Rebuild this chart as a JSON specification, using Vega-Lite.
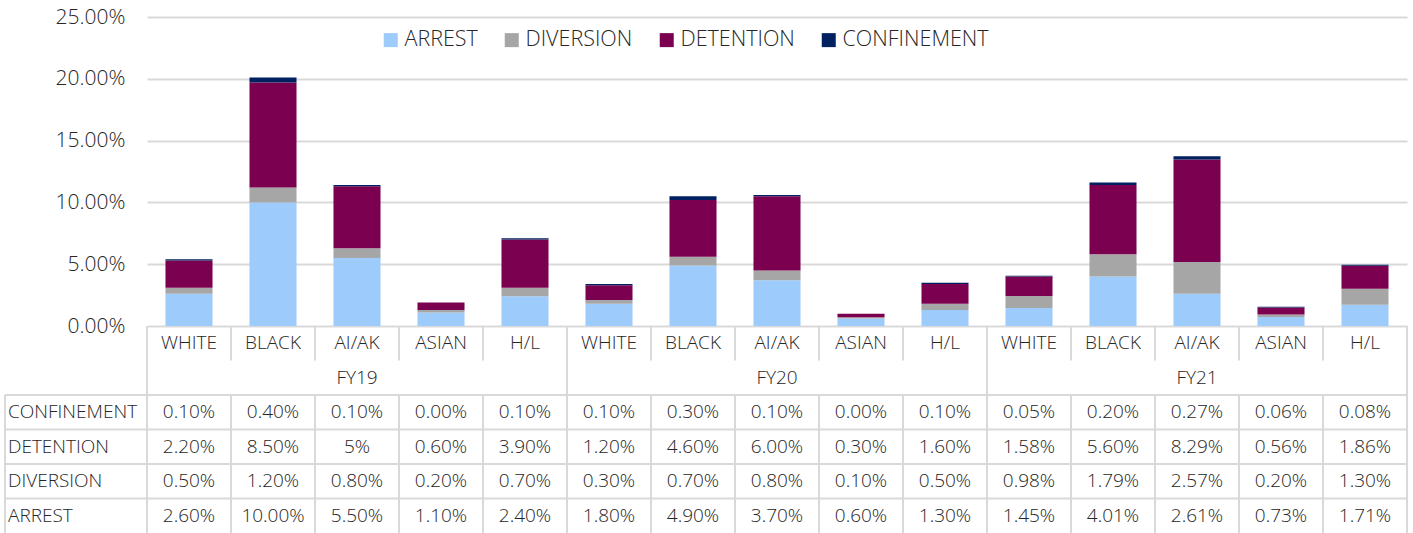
{
  "$schema": "https://vega.github.io/schema/vega-lite/v6.json",
  "width": 1260,
  "height": 516,
  "autosize": {"type": "none"},
  "padding": {"left": 147, "top": 17, "right": 6, "bottom": 0},
  "background": "white",
  "config": {"view": {"stroke": null}, "font": "Open Sans"},
  "datasets": {
    "rates": [
      {"fy": "FY19", "race": "WHITE", "stage": "ARREST", "value": 0.026, "label": "2.60%"},
      {"fy": "FY19", "race": "WHITE", "stage": "DIVERSION", "value": 0.005, "label": "0.50%"},
      {"fy": "FY19", "race": "WHITE", "stage": "DETENTION", "value": 0.022, "label": "2.20%"},
      {"fy": "FY19", "race": "WHITE", "stage": "CONFINEMENT", "value": 0.001, "label": "0.10%"},
      {"fy": "FY19", "race": "BLACK", "stage": "ARREST", "value": 0.100, "label": "10.00%"},
      {"fy": "FY19", "race": "BLACK", "stage": "DIVERSION", "value": 0.012, "label": "1.20%"},
      {"fy": "FY19", "race": "BLACK", "stage": "DETENTION", "value": 0.085, "label": "8.50%"},
      {"fy": "FY19", "race": "BLACK", "stage": "CONFINEMENT", "value": 0.004, "label": "0.40%"},
      {"fy": "FY19", "race": "AI/AK", "stage": "ARREST", "value": 0.055, "label": "5.50%"},
      {"fy": "FY19", "race": "AI/AK", "stage": "DIVERSION", "value": 0.008, "label": "0.80%"},
      {"fy": "FY19", "race": "AI/AK", "stage": "DETENTION", "value": 0.05, "label": "5%"},
      {"fy": "FY19", "race": "AI/AK", "stage": "CONFINEMENT", "value": 0.001, "label": "0.10%"},
      {"fy": "FY19", "race": "ASIAN", "stage": "ARREST", "value": 0.011, "label": "1.10%"},
      {"fy": "FY19", "race": "ASIAN", "stage": "DIVERSION", "value": 0.002, "label": "0.20%"},
      {"fy": "FY19", "race": "ASIAN", "stage": "DETENTION", "value": 0.006, "label": "0.60%"},
      {"fy": "FY19", "race": "ASIAN", "stage": "CONFINEMENT", "value": 0.0, "label": "0.00%"},
      {"fy": "FY19", "race": "H/L", "stage": "ARREST", "value": 0.024, "label": "2.40%"},
      {"fy": "FY19", "race": "H/L", "stage": "DIVERSION", "value": 0.007, "label": "0.70%"},
      {"fy": "FY19", "race": "H/L", "stage": "DETENTION", "value": 0.039, "label": "3.90%"},
      {"fy": "FY19", "race": "H/L", "stage": "CONFINEMENT", "value": 0.001, "label": "0.10%"},
      {"fy": "FY20", "race": "WHITE", "stage": "ARREST", "value": 0.018, "label": "1.80%"},
      {"fy": "FY20", "race": "WHITE", "stage": "DIVERSION", "value": 0.003, "label": "0.30%"},
      {"fy": "FY20", "race": "WHITE", "stage": "DETENTION", "value": 0.012, "label": "1.20%"},
      {"fy": "FY20", "race": "WHITE", "stage": "CONFINEMENT", "value": 0.001, "label": "0.10%"},
      {"fy": "FY20", "race": "BLACK", "stage": "ARREST", "value": 0.049, "label": "4.90%"},
      {"fy": "FY20", "race": "BLACK", "stage": "DIVERSION", "value": 0.007, "label": "0.70%"},
      {"fy": "FY20", "race": "BLACK", "stage": "DETENTION", "value": 0.046, "label": "4.60%"},
      {"fy": "FY20", "race": "BLACK", "stage": "CONFINEMENT", "value": 0.003, "label": "0.30%"},
      {"fy": "FY20", "race": "AI/AK", "stage": "ARREST", "value": 0.037, "label": "3.70%"},
      {"fy": "FY20", "race": "AI/AK", "stage": "DIVERSION", "value": 0.008, "label": "0.80%"},
      {"fy": "FY20", "race": "AI/AK", "stage": "DETENTION", "value": 0.060, "label": "6.00%"},
      {"fy": "FY20", "race": "AI/AK", "stage": "CONFINEMENT", "value": 0.001, "label": "0.10%"},
      {"fy": "FY20", "race": "ASIAN", "stage": "ARREST", "value": 0.006, "label": "0.60%"},
      {"fy": "FY20", "race": "ASIAN", "stage": "DIVERSION", "value": 0.001, "label": "0.10%"},
      {"fy": "FY20", "race": "ASIAN", "stage": "DETENTION", "value": 0.003, "label": "0.30%"},
      {"fy": "FY20", "race": "ASIAN", "stage": "CONFINEMENT", "value": 0.0, "label": "0.00%"},
      {"fy": "FY20", "race": "H/L", "stage": "ARREST", "value": 0.013, "label": "1.30%"},
      {"fy": "FY20", "race": "H/L", "stage": "DIVERSION", "value": 0.005, "label": "0.50%"},
      {"fy": "FY20", "race": "H/L", "stage": "DETENTION", "value": 0.016, "label": "1.60%"},
      {"fy": "FY20", "race": "H/L", "stage": "CONFINEMENT", "value": 0.001, "label": "0.10%"},
      {"fy": "FY21", "race": "WHITE", "stage": "ARREST", "value": 0.0145, "label": "1.45%"},
      {"fy": "FY21", "race": "WHITE", "stage": "DIVERSION", "value": 0.0098, "label": "0.98%"},
      {"fy": "FY21", "race": "WHITE", "stage": "DETENTION", "value": 0.0158, "label": "1.58%"},
      {"fy": "FY21", "race": "WHITE", "stage": "CONFINEMENT", "value": 0.0005, "label": "0.05%"},
      {"fy": "FY21", "race": "BLACK", "stage": "ARREST", "value": 0.0401, "label": "4.01%"},
      {"fy": "FY21", "race": "BLACK", "stage": "DIVERSION", "value": 0.0179, "label": "1.79%"},
      {"fy": "FY21", "race": "BLACK", "stage": "DETENTION", "value": 0.056, "label": "5.60%"},
      {"fy": "FY21", "race": "BLACK", "stage": "CONFINEMENT", "value": 0.002, "label": "0.20%"},
      {"fy": "FY21", "race": "AI/AK", "stage": "ARREST", "value": 0.0261, "label": "2.61%"},
      {"fy": "FY21", "race": "AI/AK", "stage": "DIVERSION", "value": 0.0257, "label": "2.57%"},
      {"fy": "FY21", "race": "AI/AK", "stage": "DETENTION", "value": 0.0829, "label": "8.29%"},
      {"fy": "FY21", "race": "AI/AK", "stage": "CONFINEMENT", "value": 0.0027, "label": "0.27%"},
      {"fy": "FY21", "race": "ASIAN", "stage": "ARREST", "value": 0.0073, "label": "0.73%"},
      {"fy": "FY21", "race": "ASIAN", "stage": "DIVERSION", "value": 0.002, "label": "0.20%"},
      {"fy": "FY21", "race": "ASIAN", "stage": "DETENTION", "value": 0.0056, "label": "0.56%"},
      {"fy": "FY21", "race": "ASIAN", "stage": "CONFINEMENT", "value": 0.0006, "label": "0.06%"},
      {"fy": "FY21", "race": "H/L", "stage": "ARREST", "value": 0.0171, "label": "1.71%"},
      {"fy": "FY21", "race": "H/L", "stage": "DIVERSION", "value": 0.013, "label": "1.30%"},
      {"fy": "FY21", "race": "H/L", "stage": "DETENTION", "value": 0.0186, "label": "1.86%"},
      {"fy": "FY21", "race": "H/L", "stage": "CONFINEMENT", "value": 0.0008, "label": "0.08%"}
    ],
    "grid": [
      {"x": -1, "x2": 15, "y": 2, "y2": 2},
      {"x": -1, "x2": 15, "y": 3, "y2": 3},
      {"x": -1, "x2": 15, "y": 4, "y2": 4},
      {"x": -1, "x2": 15, "y": 5, "y2": 5},
      {"x": -1, "x2": -1, "y": 2, "y2": 6},
      {"x": 0, "x2": 0, "y": 0, "y2": 6},
      {"x": 5, "x2": 5, "y": 0, "y2": 6},
      {"x": 10, "x2": 10, "y": 0, "y2": 6},
      {"x": 15, "x2": 15, "y": 0, "y2": 6},
      {"x": 1, "x2": 1, "y": 0, "y2": 1}, {"x": 1, "x2": 1, "y": 2, "y2": 6},
      {"x": 2, "x2": 2, "y": 0, "y2": 1}, {"x": 2, "x2": 2, "y": 2, "y2": 6},
      {"x": 3, "x2": 3, "y": 0, "y2": 1}, {"x": 3, "x2": 3, "y": 2, "y2": 6},
      {"x": 4, "x2": 4, "y": 0, "y2": 1}, {"x": 4, "x2": 4, "y": 2, "y2": 6},
      {"x": 6, "x2": 6, "y": 0, "y2": 1}, {"x": 6, "x2": 6, "y": 2, "y2": 6},
      {"x": 7, "x2": 7, "y": 0, "y2": 1}, {"x": 7, "x2": 7, "y": 2, "y2": 6},
      {"x": 8, "x2": 8, "y": 0, "y2": 1}, {"x": 8, "x2": 8, "y": 2, "y2": 6},
      {"x": 9, "x2": 9, "y": 0, "y2": 1}, {"x": 9, "x2": 9, "y": 2, "y2": 6},
      {"x": 11, "x2": 11, "y": 0, "y2": 1}, {"x": 11, "x2": 11, "y": 2, "y2": 6},
      {"x": 12, "x2": 12, "y": 0, "y2": 1}, {"x": 12, "x2": 12, "y": 2, "y2": 6},
      {"x": 13, "x2": 13, "y": 0, "y2": 1}, {"x": 13, "x2": 13, "y": 2, "y2": 6},
      {"x": 14, "x2": 14, "y": 0, "y2": 1}, {"x": 14, "x2": 14, "y": 2, "y2": 6}
    ]
  },
  "layer": [
    {
      "data": {"name": "rates"},
      "transform": [
        {"calculate": "datum.fy + ' ' + datum.race", "as": "col"},
        {"calculate": "indexof(['ARREST','DIVERSION','DETENTION','CONFINEMENT'], datum.stage)", "as": "stackOrder"}
      ],
      "mark": {"type": "bar", "width": {"band": 0.56}},
      "encoding": {
        "x": {"field": "col", "type": "nominal", "axis": null,
          "scale": {"type": "band", "range": [0, 1260], "paddingInner": 0, "paddingOuter": 0,
            "domain": ["FY19 WHITE", "FY19 BLACK", "FY19 AI/AK", "FY19 ASIAN", "FY19 H/L", "FY20 WHITE", "FY20 BLACK", "FY20 AI/AK", "FY20 ASIAN", "FY20 H/L", "FY21 WHITE", "FY21 BLACK", "FY21 AI/AK", "FY21 ASIAN", "FY21 H/L"]}},
        "y": {"field": "value", "type": "quantitative", "stack": "zero",
          "scale": {"domain": [0, 0.25], "range": [309, 0], "nice": false},
          "axis": {"title": null, "format": ".2%", "values": [0, 0.05, 0.1, 0.15, 0.2, 0.25], "grid": true, "gridColor": "#d9d9d9", "gridWidth": 2, "domain": false, "ticks": false, "labelFontSize": 21, "labelFontWeight": 300, "labelColor": "#262626", "labelPadding": 22, "labelFont": "Open Sans"}},
        "order": {"field": "stackOrder", "type": "quantitative", "sort": "ascending"},
        "color": {"field": "stage", "type": "nominal", "sort": ["ARREST", "DIVERSION", "DETENTION", "CONFINEMENT"],
          "scale": {"domain": ["ARREST", "DIVERSION", "DETENTION", "CONFINEMENT"], "range": ["#9ccbfc", "#a6a6a6", "#7b004f", "#002060"]},
          "legend": {"title": null, "orient": "none", "direction": "horizontal", "legendX": 233, "legendY": 12, "symbolType": "square", "symbolSize": 196, "symbolStrokeWidth": 0, "labelFontSize": 21.5, "labelFontWeight": 300, "labelFont": "Open Sans", "labelColor": "#262626", "labelOffset": 3, "columnPadding": 23}}
      }
    },
    {
      "data": {"name": "grid"},
      "mark": {"type": "rule", "color": "#d9d9d9", "strokeWidth": 2},
      "encoding": {
        "x": {"field": "x", "type": "quantitative", "axis": null, "scale": {"type": "linear", "domain": [-1, 0, 15], "range": [-142, 0, 1260], "nice": false, "zero": false}},
        "x2": {"field": "x2"},
        "y": {"field": "y", "type": "quantitative", "axis": null, "scale": {"domain": [0, 6], "range": [309, 516], "nice": false, "zero": false}},
        "y2": {"field": "y2"}
      }
    },
    {
      "data": {"name": "rates"},
      "transform": [{"filter": "datum.stage == 'ARREST'"}, {"calculate": "datum.fy + ' ' + datum.race", "as": "col"}],
      "mark": {"type": "text", "fontSize": 19, "fontWeight": 300, "color": "#262626", "font": "Open Sans"},
      "encoding": {
        "x": {"field": "col", "type": "nominal", "axis": null,
          "scale": {"type": "band", "range": [0, 1260], "paddingInner": 0, "paddingOuter": 0,
            "domain": ["FY19 WHITE", "FY19 BLACK", "FY19 AI/AK", "FY19 ASIAN", "FY19 H/L", "FY20 WHITE", "FY20 BLACK", "FY20 AI/AK", "FY20 ASIAN", "FY20 H/L", "FY21 WHITE", "FY21 BLACK", "FY21 AI/AK", "FY21 ASIAN", "FY21 H/L"]}},
        "y": {"datum": "CAT", "type": "nominal", "axis": null, "scale": {"type": "band", "domain": ["CAT", "FY", "CONFINEMENT", "DETENTION", "DIVERSION", "ARREST"], "range": [309, 516], "paddingInner": 0, "paddingOuter": 0}},
        "text": {"field": "race"}
      }
    },
    {
      "data": {"name": "rates"},
      "transform": [{"filter": "datum.stage == 'ARREST' && datum.race == 'AI/AK'"}, {"calculate": "datum.fy + ' ' + datum.race", "as": "col"}],
      "mark": {"type": "text", "fontSize": 19, "fontWeight": 300, "color": "#262626", "font": "Open Sans"},
      "encoding": {
        "x": {"field": "col", "type": "nominal", "axis": null,
          "scale": {"type": "band", "range": [0, 1260], "paddingInner": 0, "paddingOuter": 0,
            "domain": ["FY19 WHITE", "FY19 BLACK", "FY19 AI/AK", "FY19 ASIAN", "FY19 H/L", "FY20 WHITE", "FY20 BLACK", "FY20 AI/AK", "FY20 ASIAN", "FY20 H/L", "FY21 WHITE", "FY21 BLACK", "FY21 AI/AK", "FY21 ASIAN", "FY21 H/L"]}},
        "y": {"datum": "FY", "type": "nominal", "axis": null, "scale": {"type": "band", "domain": ["CAT", "FY", "CONFINEMENT", "DETENTION", "DIVERSION", "ARREST"], "range": [309, 516], "paddingInner": 0, "paddingOuter": 0}},
        "text": {"field": "fy"}
      }
    },
    {
      "data": {"name": "rates"},
      "transform": [{"calculate": "datum.fy + ' ' + datum.race", "as": "col"}],
      "mark": {"type": "text", "fontSize": 19, "fontWeight": 300, "color": "#262626", "font": "Open Sans"},
      "encoding": {
        "x": {"field": "col", "type": "nominal", "axis": null,
          "scale": {"type": "band", "range": [0, 1260], "paddingInner": 0, "paddingOuter": 0,
            "domain": ["FY19 WHITE", "FY19 BLACK", "FY19 AI/AK", "FY19 ASIAN", "FY19 H/L", "FY20 WHITE", "FY20 BLACK", "FY20 AI/AK", "FY20 ASIAN", "FY20 H/L", "FY21 WHITE", "FY21 BLACK", "FY21 AI/AK", "FY21 ASIAN", "FY21 H/L"]}},
        "y": {"field": "stage", "type": "nominal", "axis": null, "scale": {"type": "band", "domain": ["CAT", "FY", "CONFINEMENT", "DETENTION", "DIVERSION", "ARREST"], "range": [309, 516], "paddingInner": 0, "paddingOuter": 0}},
        "text": {"field": "label"}
      }
    },
    {
      "data": {"name": "rates"},
      "transform": [{"filter": "datum.fy == 'FY19' && datum.race == 'WHITE'"}],
      "mark": {"type": "text", "fontSize": 19, "fontWeight": 300, "color": "#262626", "font": "Open Sans", "align": "left", "dx": 3},
      "encoding": {
        "x": {"datum": -1, "type": "quantitative", "axis": null, "scale": {"type": "linear", "domain": [-1, 0, 15], "range": [-142, 0, 1260], "nice": false, "zero": false}},
        "y": {"field": "stage", "type": "nominal", "axis": null, "scale": {"type": "band", "domain": ["CAT", "FY", "CONFINEMENT", "DETENTION", "DIVERSION", "ARREST"], "range": [309, 516], "paddingInner": 0, "paddingOuter": 0}},
        "text": {"field": "stage"}
      }
    }
  ],
  "resolve": {"scale": {"x": "independent", "y": "independent"}}
}
